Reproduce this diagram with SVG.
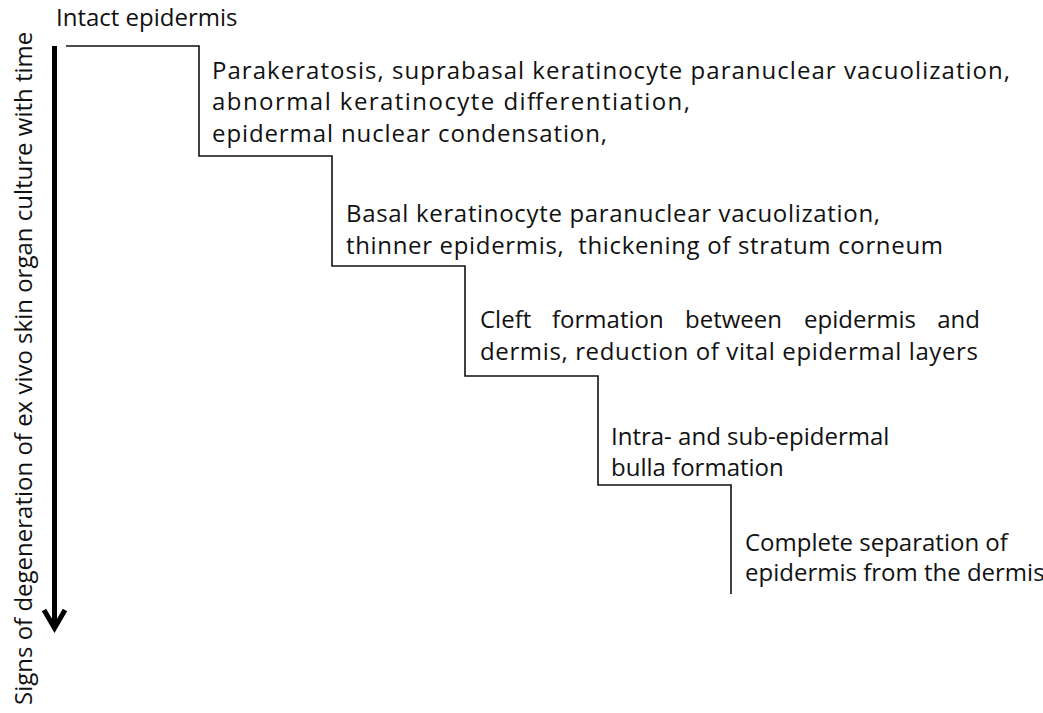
<svg xmlns="http://www.w3.org/2000/svg" width="1043" height="713" viewBox="0 0 1043 713">
<style>
  text { font-family: "Open Sans", "Liberation Sans", sans-serif; font-size: 24px; fill: #111; }
  .stair { fill: none; stroke: #111; stroke-width: 1.6; }
  .axis { fill: none; stroke: #000; stroke-width: 5; }
</style>
<rect width="1043" height="713" fill="#fff"/>
<g id="connectors">
  <path class="stair" d="M66,46 H199 V156 H332 V266 H465 V376 H598 V485 H731 V594"/>
</g>
<g id="time-axis">
  <line class="axis" x1="54.5" y1="46" x2="54.5" y2="628"/>
  <polyline class="axis" points="44,610 54.5,628 65,610" stroke-linejoin="miter"/>
  <text transform="translate(32,705) rotate(-90)">Signs of degeneration of ex vivo skin organ culture with time</text>
</g>
<g id="stage0">
  <text x="56" y="26">Intact epidermis</text>
</g>
<g id="stage1">
  <text x="212" y="79" textLength="798" lengthAdjust="spacing">Parakeratosis, suprabasal keratinocyte paranuclear vacuolization,</text>
  <text x="212" y="110" textLength="478" lengthAdjust="spacing">abnormal keratinocyte differentiation,</text>
  <text x="212" y="142" textLength="395" lengthAdjust="spacing">epidermal nuclear condensation,</text>
</g>
<g id="stage2">
  <text x="346" y="222" textLength="534" lengthAdjust="spacing">Basal keratinocyte paranuclear vacuolization,</text>
  <text x="346" y="254" xml:space="preserve" textLength="597" lengthAdjust="spacing">thinner epidermis,  thickening of stratum corneum</text>
</g>
<g id="stage3">
  <text y="328"><tspan x="480">Cleft</tspan><tspan x="552">formation</tspan><tspan x="685">between</tspan><tspan x="804">epidermis</tspan><tspan x="980" text-anchor="end">and</tspan></text>
  <text x="480" y="360" textLength="498" lengthAdjust="spacing">dermis, reduction of vital epidermal layers</text>
</g>
<g id="stage4">
  <text x="611" y="445">Intra- and sub-epidermal</text>
  <text x="611" y="476">bulla formation</text>
</g>
<g id="stage5">
  <text x="745" y="551">Complete separation of</text>
  <text x="745" y="581">epidermis from the dermis</text>
</g>
</svg>
